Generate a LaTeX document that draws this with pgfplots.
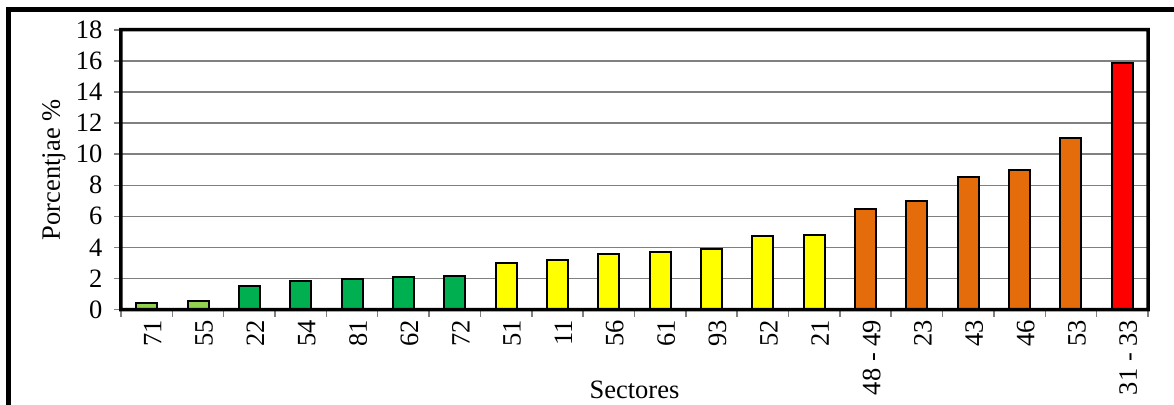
\documentclass[border=0pt]{standalone}
\usepackage{fontspec}
\setmainfont{Liberation Serif}
\usepackage{pgfplots}
\pgfplotsset{compat=1.18}
\definecolor{lgreen}{HTML}{92D050}
\definecolor{dgreen}{HTML}{00B050}
\definecolor{cyellow}{HTML}{FFFF00}
\definecolor{corange}{HTML}{E46C0A}
\definecolor{cred}{HTML}{FF0000}
\newcommand{\bigfont}{\fontsize{26.5}{30}\selectfont}
\begin{document}
\begin{tikzpicture}[x=1pt,y=1pt]
\useasboundingbox (0,0) rectangle (1174,404);
\begin{scope}
\clip (0,0) rectangle (1174,404);
\draw[line width=5pt] (8.5,-30) rectangle (1220,394);
\end{scope}
\begin{axis}[
  name=ax,
  at={(121pt,94.5pt)}, anchor=south west,
  scale only axis, width=1027pt, height=279.5pt,
  ymin=0, ymax=18, ytick={0,2,...,18},
  xmin=-0.5, xmax=19.5,
  xtick={0,...,19},
  xticklabels={71,55,22,54,81,62,72,51,11,56,61,93,52,21,48 - 49,23,43,46,53,31 - 33},
  minor xtick={-0.5,0.5,...,19.5},
  major x tick style={draw=none},
  xtick pos=bottom, ytick pos=left,
  tick align=outside,
  major tick length=7pt, minor tick length=7pt,
  every tick/.style={gray, line width=1.5pt},
  ymajorgrids, major y grid style={gray, line width=1.5pt},
  /pgf/number format/assume math mode=true,
  tick label style={font=\bigfont},
  xticklabel style={rotate=90, anchor=east, yshift=-6pt},
  yticklabel style={xshift=-8pt},
  label style={font=\bigfont},
  xlabel={Sectores},
  ylabel={Porcentjae \%},
  xlabel style={at={(axis description cs:0.5,-0.318)}, anchor=base},
  ylabel style={at={(axis description cs:-0.0594,0.5)}, anchor=base},
  ybar, bar width=21pt,
  every axis plot/.append style={draw=black, line width=2pt, bar shift=0pt},
]
\addplot[fill=lgreen] coordinates {(0,0.40) (1,0.57)};
\addplot[fill=dgreen] coordinates {(2,1.53) (3,1.85) (4,1.94) (5,2.12) (6,2.18)};
\addplot[fill=cyellow] coordinates {(7,2.99) (8,3.19) (9,3.57) (10,3.68) (11,3.92) (12,4.75) (13,4.82)};
\addplot[fill=corange] coordinates {(14,6.47) (15,6.97) (16,8.53) (17,9.00) (18,11.04)};
\addplot[fill=cred] coordinates {(19,15.85)};
\end{axis}
\fill[black, even odd rule] ([shift={(-2pt,-2pt)}]ax.south west) rectangle ([shift={(2pt,2pt)}]ax.north east)
  ([shift={(1.5pt,1.5pt)}]ax.south west) rectangle ([shift={(-1.5pt,-1.5pt)}]ax.north east);
\end{tikzpicture}
\end{document}
